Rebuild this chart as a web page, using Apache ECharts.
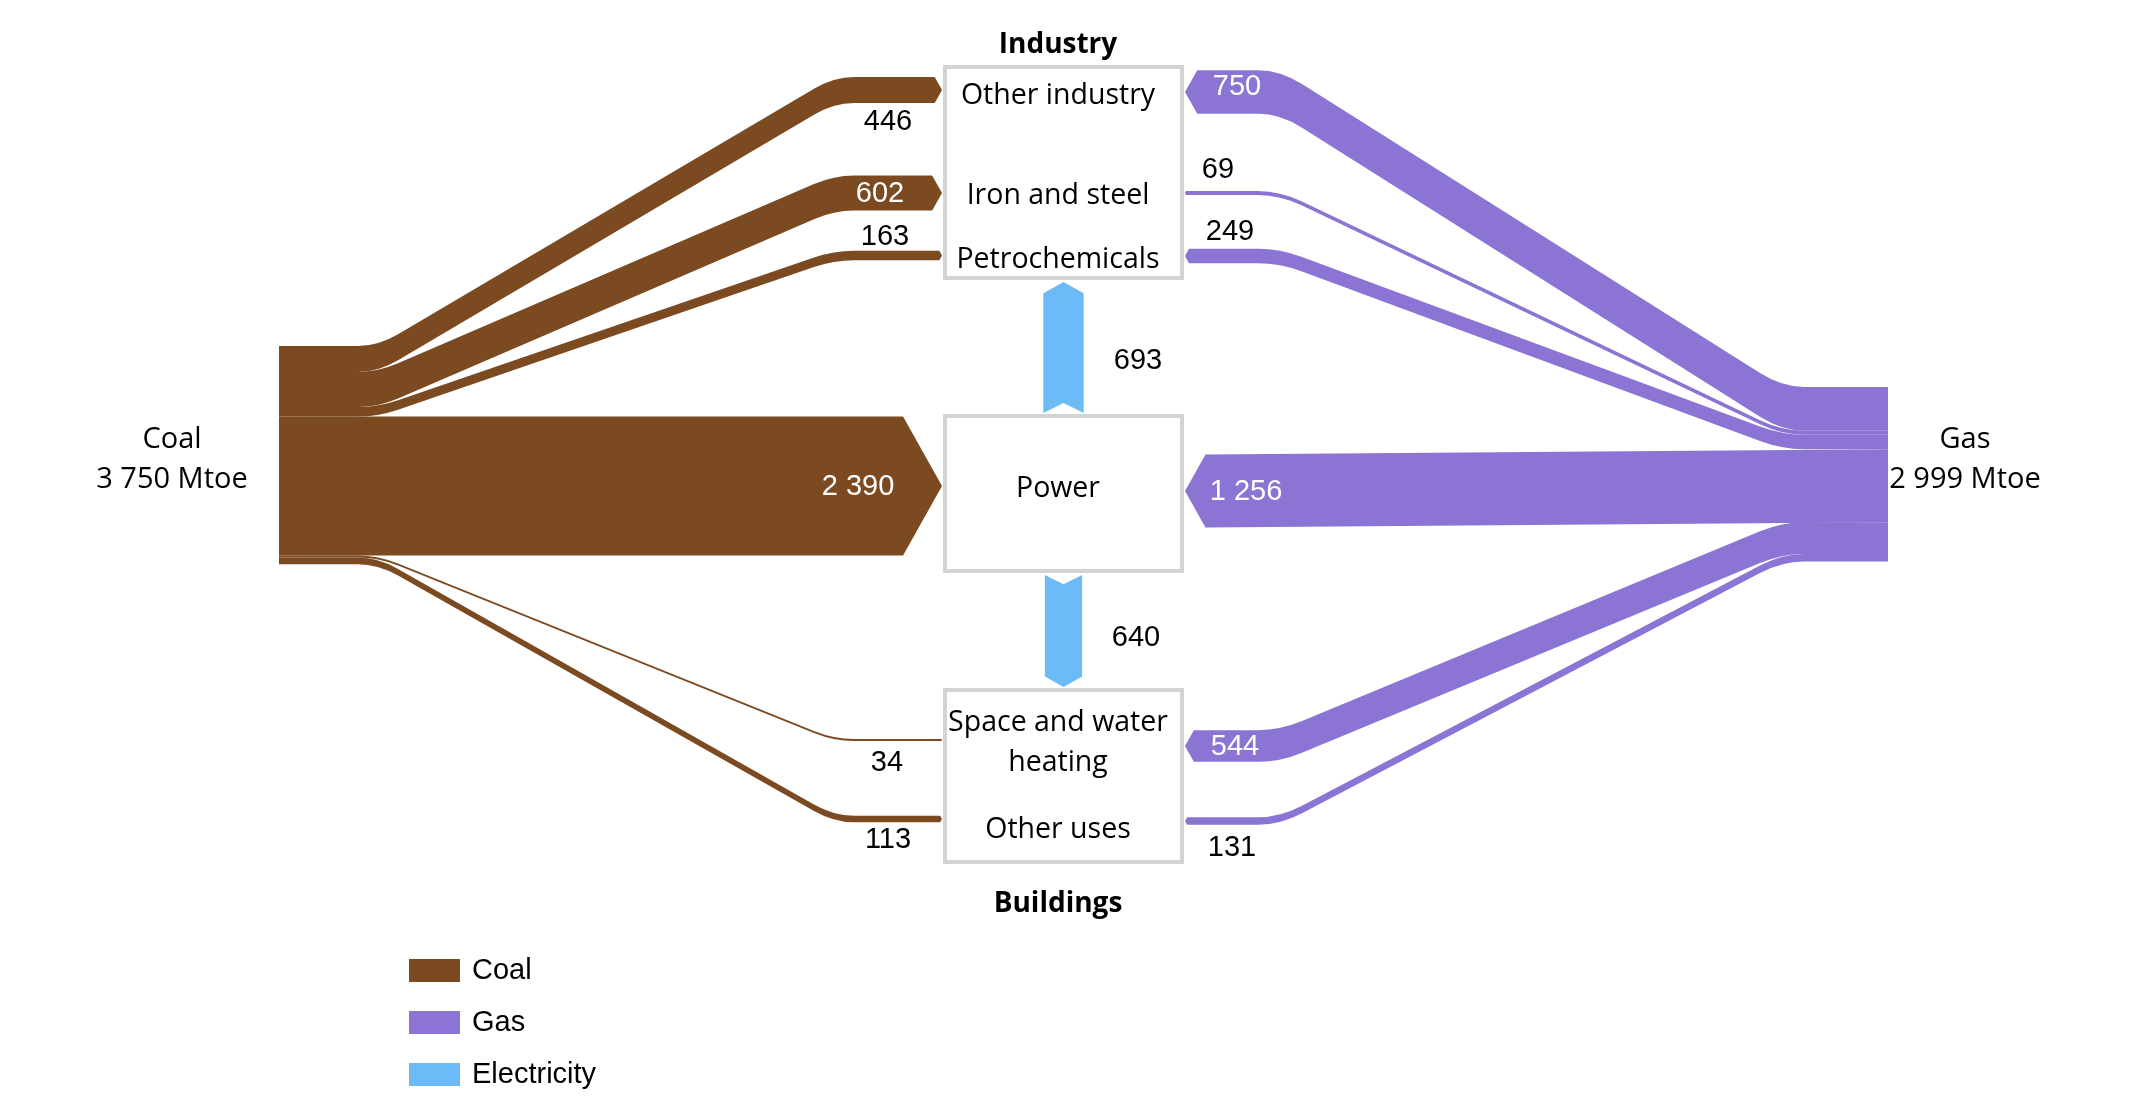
<!DOCTYPE html>
<html>
<head>
<meta charset="utf-8">
<script src="https://cdn.jsdelivr.net/npm/echarts/dist/echarts.min.js"></script>
<style>
html,body{margin:0;padding:0;background:#fff;}
#chart{width:2140px;height:1110px;}
</style>
</head>
<body>
<div id="chart"></div>
<script>
// ---------------- DATA ----------------
const sectors = ['Other industry', 'Iron and steel', 'Petrochemicals', 'Power', 'Space and water heating', 'Other uses'];
const sectorGroup = ['Industry', 'Industry', 'Industry', 'Power', 'Buildings', 'Buildings'];
const groups = ['Industry', 'Power', 'Buildings'];
const coalValues = [446, 602, 163, 2390, 34, 113];
const gasValues = [750, 69, 249, 1256, 544, 131];
const electricityLinks = ['Power to Industry', 'Power to Buildings'];
const electricityValues = [693, 640];
const sourceNames = ['Coal', 'Gas'];
const sourceTotals = [3750, 2999];
const unit = 'Mtoe';
const legendNames = ['Coal', 'Gas', 'Electricity'];

// ---------------- STYLE / LAYOUT ----------------
const K = 0.0582; // pixels of band thickness per Mtoe
const COAL = '#7b4a21', GAS = '#8c74d4', ELEC = '#6cbaf6', BOX = '#d3d3d3';
const NUM_FONT = '"Liberation Sans", Arial, sans-serif';
const TXT_FONT = '"Open Sans", "Noto Sans", sans-serif';
const fmt = v => String(v).replace(/\B(?=(\d{3})+(?!\d))/g, ' ');

const SIDE = {
  coal: {
    x0: 279, top: 346, xa: 378, xb: 834, tip: 942, r: 20, dir: 1,
    targetY: [90, 193, 255.5, 486, 740, 819],
    straight: [false, false, false, true, false, false],
    labelPos: ['below', 'in', 'above', 'in', 'below', 'below'],
    labelX: [888, 880, 885, 858, 887, 888],
    labelDy: [1, 1, 4, 1, 4, 0]
  },
  gas: {
    x0: 1888, top: 387, xa: 1782, xb: 1280, tip: 1185, r: 22, dir: -1,
    targetY: [92, 193, 256, 491, 746, 821],
    straight: [false, false, false, true, false, false],
    labelPos: ['in', 'above', 'above', 'in', 'in', 'below'],
    labelX: [1237, 1218, 1230, 1246, 1235, 1232],
    labelDy: [-5, -3, 1, 1, 1, 5]
  }
};
const BOXES = {x0: 943, x1: 1184, rows: [[65, 280], [414, 573], [688, 864]], textX: 1058,
  titles: {Industry: 45, Buildings: 904}};
const SECTOR_TEXT_Y = [96, 196, 260, 489, 743, 830];
const ELEC_LAYOUT = {xc: 1063.5, fromY: [413, 575], toY: [282, 687], labelXY: [[1138, 361], [1136, 638]]};
const SOURCE_LABEL = {xy: [[172, 460], [1965, 460]]};

// ---------------- RENDERERS ----------------
function flowRender(side, values, color) {
  return function (params, api) {
    const i = params.dataIndex;
    const v = api.value(1);
    const h = v * K;
    let acc = 0;
    for (let j = 0; j < i; j++) acc += values[j];
    const ys = side.top + K * acc + h / 2;
    const yt = side.targetY[i];
    const dir = side.dir;
    const xBase = side.tip - dir * 0.28 * h;
    const straight = side.straight[i];
    const edge = off => {
      const ops = [{t: 'M', p: [side.x0, ys + off]}];
      if (straight) { ops.push({t: 'L', p: [xBase, yt + off]}); return ops; }
      const r = side.r, span = Math.abs(side.xb - side.xa), slope = (yt - ys) / span;
      ops.push({t: 'L', p: [side.xa - dir * r, ys + off]});
      ops.push({t: 'Q', c: [side.xa, ys + off], p: [side.xa + dir * r, ys + off + slope * r]});
      ops.push({t: 'L', p: [side.xb - dir * r, yt + off - slope * r]});
      ops.push({t: 'Q', c: [side.xb, yt + off], p: [side.xb + dir * r, yt + off]});
      ops.push({t: 'L', p: [xBase, yt + off]});
      return ops;
    };
    const pt = p => { const c = api.coord(p); return c[0].toFixed(2) + ' ' + c[1].toFixed(2); };
    const top = edge(-h / 2), bot = edge(h / 2);
    let d = '';
    top.forEach(o => { d += o.t === 'Q' ? 'Q ' + pt(o.c) + ' ' + pt(o.p) + ' ' : o.t + ' ' + pt(o.p) + ' '; });
    d += 'L ' + pt([side.tip, yt]) + ' ';
    d += 'L ' + pt(bot[bot.length - 1].p) + ' ';
    for (let k = bot.length - 1; k >= 1; k--) {
      const o = bot[k];
      d += o.t === 'Q' ? 'Q ' + pt(o.c) + ' ' + pt(bot[k - 1].p) + ' ' : 'L ' + pt(bot[k - 1].p) + ' ';
    }
    d += 'Z';
    const pos = side.labelPos[i];
    let ly = yt;
    if (pos === 'below') ly = yt + h / 2 + 18;
    if (pos === 'above') ly = yt - h / 2 - 18;
    ly += side.labelDy[i];
    const lp = api.coord([side.labelX[i], ly]);
    return {
      type: 'group',
      children: [
        {type: 'path', shape: {pathData: d}, style: {fill: color}},
        {type: 'text', style: {text: fmt(v), x: lp[0], y: lp[1], fill: pos === 'in' ? '#ffffff' : '#000000',
          font: '29px ' + NUM_FONT, align: 'center', verticalAlign: 'middle'}}
      ]
    };
  };
}

function elecRender(params, api) {
  const i = params.dataIndex;
  const v = api.value(1);
  const w = v * K;
  const xc = ELEC_LAYOUT.xc, f = ELEC_LAYOUT.fromY[i], t = ELEC_LAYOUT.toY[i];
  const dir = Math.sign(t - f);
  const notch = 0.25 * w, hl = 0.28 * w;
  const pts = [[xc - w / 2, f], [xc, f + dir * notch], [xc + w / 2, f], [xc + w / 2, t - dir * hl], [xc, t], [xc - w / 2, t - dir * hl]]
    .map(p => api.coord(p));
  const lp = api.coord(ELEC_LAYOUT.labelXY[i]);
  return {
    type: 'group',
    children: [
      {type: 'polygon', shape: {points: pts}, style: {fill: ELEC}},
      {type: 'text', style: {text: fmt(v), x: lp[0], y: lp[1], fill: '#000', font: '29px ' + NUM_FONT,
        align: 'center', verticalAlign: 'middle'}}
    ]
  };
}

function boxRender(params, api) {
  const g = params.dataIndex;
  const name = groups[g];
  const row = BOXES.rows[g];
  const p0 = api.coord([BOXES.x0 + 2, row[0] + 2]);
  const p1 = api.coord([BOXES.x1 - 2, row[1] - 2]);
  const children = [
    {type: 'rect', shape: {x: p0[0], y: p0[1], width: p1[0] - p0[0], height: p1[1] - p0[1]},
      style: {fill: '#ffffff', stroke: BOX, lineWidth: 4}}
  ];
  sectors.forEach((s, i) => {
    if (sectorGroup[i] !== name) return;
    const tp = api.coord([BOXES.textX, SECTOR_TEXT_Y[i]]);
    children.push({type: 'text', style: {text: s === 'Space and water heating' ? 'Space and water\nheating' : s,
      x: tp[0], y: tp[1], fill: '#000', font: '28.5px ' + TXT_FONT, lineHeight: 40,
      align: 'center', verticalAlign: 'middle'}});
  });
  if (BOXES.titles[name] !== undefined) {
    const tp = api.coord([BOXES.textX, BOXES.titles[name]]);
    children.push({type: 'text', style: {text: name, x: tp[0], y: tp[1], fill: '#000',
      font: 'bold 28px ' + TXT_FONT, align: 'center', verticalAlign: 'middle'}});
  }
  return {type: 'group', children};
}

function sourceRender(params, api) {
  const i = params.dataIndex;
  const p = api.coord(SOURCE_LABEL.xy[i]);
  return {type: 'text', style: {text: sourceNames[i] + '\n' + fmt(sourceTotals[i]) + ' ' + unit,
    x: p[0], y: p[1], fill: '#000', font: '29px ' + TXT_FONT, lineHeight: 40,
    align: 'center', verticalAlign: 'middle'}};
}

const chart = echarts.init(document.getElementById('chart'), null, {renderer: 'canvas'});
chart.setOption({
  animation: false,
  backgroundColor: '#ffffff',
  grid: {left: 0, right: 0, top: 0, bottom: 0},
  xAxis: {type: 'value', min: 0, max: 2140, show: false},
  yAxis: {type: 'value', min: 0, max: 1110, inverse: true, show: false},
  legend: {
    data: legendNames, orient: 'vertical', left: 409, top: 956, padding: 0,
    itemWidth: 51, itemHeight: 23, itemGap: 23, icon: 'rect', selectedMode: false,
    textStyle: {fontFamily: NUM_FONT, fontSize: 29, color: '#000', padding: [0, 0, 0, 7]}
  },
  series: [
    {type: 'custom', name: 'boxes', silent: true, clip: false, renderItem: boxRender,
      data: groups.map((g, i) => [i, 0])},
    {type: 'custom', name: 'Coal', silent: true, clip: false, itemStyle: {color: COAL},
      renderItem: flowRender(SIDE.coal, coalValues, COAL), data: coalValues.map((v, i) => [i, v])},
    {type: 'custom', name: 'Gas', silent: true, clip: false, itemStyle: {color: GAS},
      renderItem: flowRender(SIDE.gas, gasValues, GAS), data: gasValues.map((v, i) => [i, v])},
    {type: 'custom', name: 'Electricity', silent: true, clip: false, itemStyle: {color: ELEC},
      renderItem: elecRender, data: electricityValues.map((v, i) => [i, v])},
    {type: 'custom', name: 'sources', silent: true, clip: false, renderItem: sourceRender,
      data: sourceNames.map((s, i) => [i, 0])}
  ]
});
</script>
</body>
</html>
